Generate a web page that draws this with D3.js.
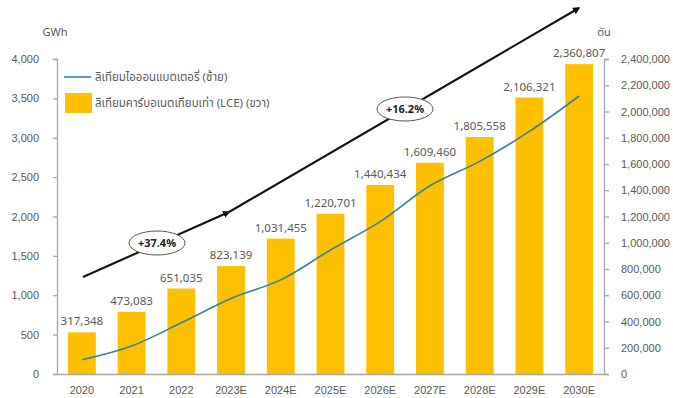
<!DOCTYPE html>
<html>
<head>
<meta charset="utf-8">
<script src="https://cdn.jsdelivr.net/npm/d3@7"></script>
<style>
  html, body { margin: 0; padding: 0; background: #fff; }
  svg { display: block; font-family: "Noto Sans", "Noto Sans Thai", "Open Sans", sans-serif; }
  .tick text, .lbl { fill: #595959; }
</style>
</head>
<body>
<svg id="chart" width="673" height="398"></svg>
<script>
// Years (E = estimate)
const categories = ["2020", "2021", "2022", "2023E", "2024E", "2025E", "2026E", "2027E", "2028E", "2029E", "2030E"];
// Lithium carbonate equivalent demand, tonnes (right axis, bars)
const lceTonnes = [317348, 473083, 651035, 823139, 1031455, 1220701, 1440434, 1609460, 1805558, 2106321, 2360807];
// Lithium-ion battery demand, GWh (left axis, line)
const batteryGWh = [180, 355, 650, 960, 1195, 1575, 1935, 2390, 2700, 3080, 3530];
const leftTicks = [0, 500, 1000, 1500, 2000, 2500, 3000, 3500, 4000];
const rightTicks = [0, 200000, 400000, 600000, 800000, 1000000, 1200000, 1400000, 1600000, 1800000, 2000000, 2200000, 2400000];
const legendLabels = ["ลิเทียมไอออนแบตเตอรี่ (ซ้าย)", "ลิเทียมคาร์บอเนตเทียบเท่า (LCE) (ขวา)"];
const growthLabels = ["+37.4%", "+16.2%"];

const svg = d3.select("#chart");
const m = { left: 57, right: 604, top: 59, bottom: 374 };
const fmt = d3.format(",");
const axisColor = "#a6a6a6";

const x = d3.scaleBand().domain(categories).range([m.left, m.right]).paddingInner(0.44).paddingOuter(0.22);
const yL = d3.scaleLinear().domain([0, 4000]).range([m.bottom, m.top]);
const yR = d3.scaleLinear().domain([0, 2400000]).range([m.bottom, m.top]);

// Bars (right axis)
svg.append("g").selectAll("rect").data(categories).join("rect")
  .attr("x", d => x(d))
  .attr("width", x.bandwidth())
  .attr("y", (d, i) => yR(lceTonnes[i]))
  .attr("height", (d, i) => m.bottom - yR(lceTonnes[i]))
  .attr("fill", "#ffc000");

// Value labels above bars
svg.append("g").selectAll("text").data(categories).join("text")
  .attr("class", "lbl")
  .attr("x", d => x(d) + x.bandwidth() / 2)
  .attr("y", (d, i) => yR(lceTonnes[i]) - 7)
  .attr("text-anchor", "middle")
  .attr("font-size", 11.5)
  .text((d, i) => fmt(lceTonnes[i]));

// Battery demand line (left axis)
const line = d3.line()
  .x((d, i) => x(categories[i]) + x.bandwidth() / 2)
  .y(d => yL(d))
  .curve(d3.curveCatmullRom.alpha(0.5));
svg.append("path").datum(batteryGWh)
  .attr("d", line)
  .attr("fill", "none")
  .attr("stroke", "#31859c")
  .attr("stroke-width", 1.6);

// Left axis
const gL = svg.append("g").attr("transform", `translate(${m.left},0)`)
  .call(d3.axisLeft(yL).tickValues(leftTicks).tickFormat(fmt).tickSize(4).tickPadding(14));
// Right axis
const gR = svg.append("g").attr("transform", `translate(${m.right},0)`)
  .call(d3.axisRight(yR).tickValues(rightTicks).tickFormat(fmt).tickSize(5).tickPadding(12));
[gL, gR].forEach(g => {
  g.select(".domain").attr("stroke", axisColor).attr("stroke-width", 1.3);
  g.selectAll(".tick line").attr("stroke", axisColor).attr("stroke-width", 1.3);
  g.selectAll(".tick text").attr("font-size", 11);
});
// Bottom axis
const gB = svg.append("g").attr("transform", `translate(0,${m.bottom})`)
  .call(d3.axisBottom(x).tickSize(0).tickPadding(12));
gB.select(".domain").attr("stroke", axisColor).attr("stroke-width", 1.3);
gB.selectAll(".tick text").attr("font-size", 11);

// Axis unit captions
svg.append("text").attr("class", "lbl").attr("x", 55).attr("y", 36).attr("text-anchor", "middle").attr("font-size", 11).text("GWh");
svg.append("text").attr("class", "lbl").attr("x", 604).attr("y", 36).attr("text-anchor", "middle").attr("font-size", 11).text("ตัน");

// Legend
const lg = svg.append("g");
lg.append("line").attr("x1", 64).attr("x2", 91).attr("y1", 77).attr("y2", 77).attr("stroke", "#31859c").attr("stroke-width", 1.6);
lg.append("text").attr("class", "lbl").attr("x", 95).attr("y", 81).attr("font-size", 11.5).text(legendLabels[0]);
lg.append("rect").attr("x", 65).attr("y", 93).attr("width", 27).attr("height", 20).attr("fill", "#ffc000");
lg.append("text").attr("class", "lbl").attr("x", 95).attr("y", 107).attr("font-size", 11.5).text(legendLabels[1]);

// Growth trend arrows with CAGR call-outs
const defs = svg.append("defs");
defs.append("marker").attr("id", "arrowHead").attr("viewBox", "0 0 10 10")
  .attr("refX", 8).attr("refY", 5).attr("markerWidth", 3.5).attr("markerHeight", 3.5)
  .attr("orient", "auto")
  .append("path").attr("d", "M0,0 L10,5 L0,10 Z").attr("fill", "#111");

const pStart = [83, 277], pMid = [229, 212], pEnd = [579, 8];
svg.append("line").attr("x1", pStart[0]).attr("y1", pStart[1]).attr("x2", pMid[0]).attr("y2", pMid[1])
  .attr("stroke", "#111").attr("stroke-width", 2.1).attr("marker-end", "url(#arrowHead)");
svg.append("line").attr("x1", pMid[0]).attr("y1", pMid[1]).attr("x2", pEnd[0]).attr("y2", pEnd[1])
  .attr("stroke", "#111").attr("stroke-width", 2.1).attr("marker-end", "url(#arrowHead)");

const callouts = [[157, 243], [405, 109]];
callouts.forEach((c, i) => {
  svg.append("ellipse").attr("cx", c[0]).attr("cy", c[1]).attr("rx", 28).attr("ry", 12)
    .attr("fill", "#fff").attr("stroke", "#555").attr("stroke-width", 1);
  svg.append("text").attr("x", c[0]).attr("y", c[1] + 4).attr("text-anchor", "middle")
    .attr("font-size", 11).attr("font-weight", "bold").attr("fill", "#222").text(growthLabels[i]);
});
</script>
</body>
</html>
